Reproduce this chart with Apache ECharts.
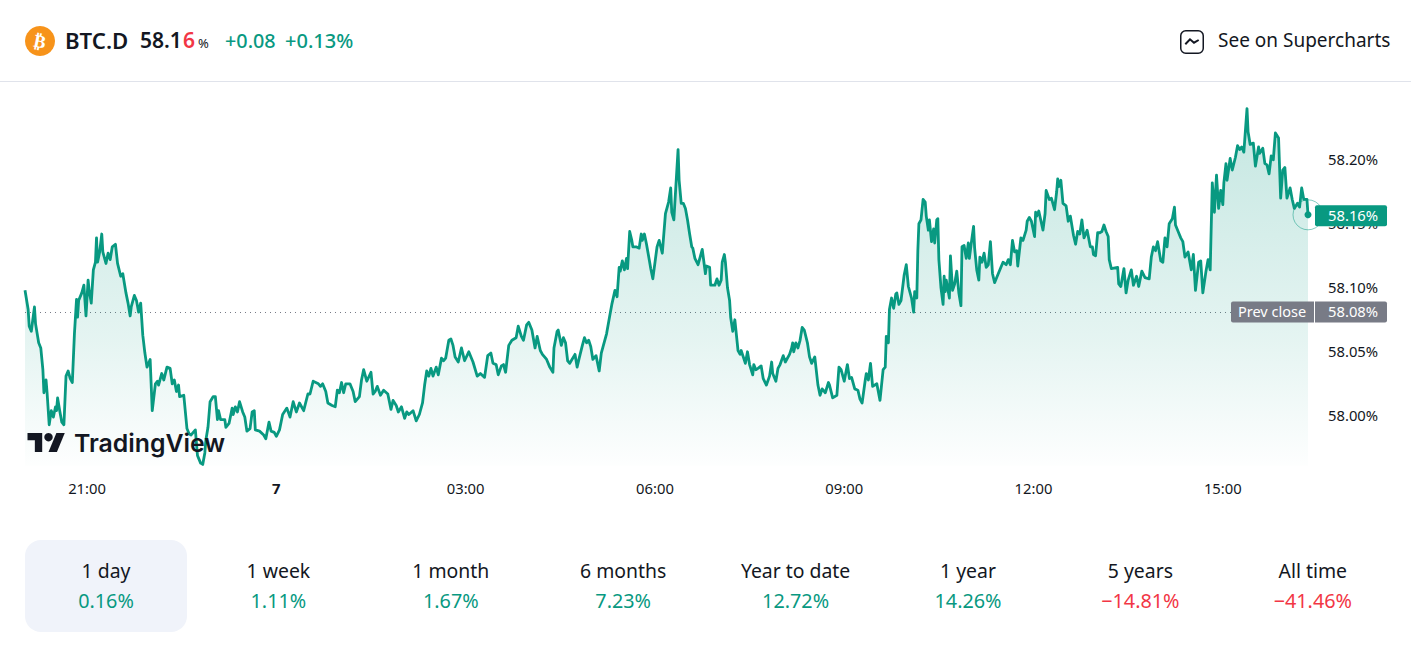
<!DOCTYPE html>
<html>
<head>
<meta charset="utf-8">
<script src="https://cdn.jsdelivr.net/npm/echarts@6/dist/echarts.min.js"></script>
<style>html,body{margin:0;padding:0;background:#fff}#c{width:1411px;height:665px}</style>
</head>
<body>
<div id="c"></div>
<script>
// minutes relative to 00:00 on the 7th, BTC dominance in %
const dominance = [
[-239,58.097],[-236,58.082],[-235,58.069],[-233,58.065],[-230,58.084],[-229,58.071],[-226,58.056],[-224,58.052],[-222,58.035],[-221,58.017],
[-219,58.027],[-218,58.017],[-216,57.992],[-214,58.003],[-212,57.998],[-210,58.006],[-209,58.003],[-208,58.013],[-206,58.003],[-204,57.994],
[-202,57.992],[-200,58.030],[-198,58.034],[-196,58.028],[-194,58.025],[-192,58.063],[-190,58.090],[-189,58.076],[-188,58.089],[-185,58.095],
[-183,58.101],[-181,58.077],[-179,58.105],[-178,58.097],[-176,58.087],[-174,58.113],[-172,58.119],[-171,58.138],[-170,58.119],[-168,58.127],
[-166,58.141],[-165,58.127],[-162,58.118],[-160,58.126],[-158,58.121],[-156,58.131],[-153,58.133],[-151,58.118],[-148,58.108],[-146,58.110],
[-143,58.095],[-141,58.087],[-139,58.077],[-138,58.084],[-135,58.093],[-133,58.089],[-131,58.080],[-129,58.087],[-127,58.062],[-125,58.048],
[-123,58.037],[-120,58.043],[-118,58.003],[-115,58.024],[-113,58.026],[-112,58.023],[-109,58.032],[-107,58.027],[-104,58.037],[-101,58.036],
[-99,58.024],[-97,58.027],[-95,58.018],[-93,58.023],[-92,58.014],[-88,58.015],[-85,57.989],[-83,57.985],[-81,57.984],[-77,57.988],
[-75,57.968],[-72,57.962],[-70,57.961],[-68,57.970],[-67,57.980],[-65,57.990],[-63,58.010],[-60,58.014],[-58,58.014],[-56,57.996],
[-55,58.003],[-53,57.996],[-49,57.996],[-48,57.990],[-45,57.993],[-42,58.005],[-41,58.000],[-39,58.006],[-37,58.002],[-35,58.010],
[-32,58.002],[-30,57.998],[-28,57.987],[-25,57.989],[-23,58.002],[-21,58.003],[-20,57.988],[-16,57.987],[-12,57.984],[-10,57.981],
[-7,57.994],[-5,57.987],[-2,57.986],[0,57.983],[3,57.988],[6,58.000],[10,58.005],[13,57.998],[16,58.010],[19,58.002],
[22,58.009],[26,58.003],[30,58.016],[32,58.016],[35,58.026],[40,58.024],[42,58.022],[44,58.024],[47,58.018],[49,58.009],
[53,58.007],[56,58.006],[58,58.019],[60,58.017],[62,58.025],[64,58.017],[66,58.024],[70,58.024],[73,58.018],[75,58.010],
[79,58.014],[81,58.027],[83,58.035],[86,58.026],[90,58.033],[92,58.016],[94,58.018],[96,58.022],[99,58.015],[102,58.019],
[106,58.016],[109,58.004],[111,58.011],[114,58.007],[116,58.002],[119,58.006],[122,57.997],[124,58.002],[126,58.000],[130,58.003],
[133,57.995],[136,58.000],[139,58.009],[141,58.023],[143,58.034],[145,58.030],[147,58.036],[149,58.030],[152,58.037],[154,58.031],
[157,58.044],[159,58.042],[161,58.044],[164,58.058],[166,58.059],[168,58.054],[170,58.045],[173,58.041],[176,58.052],[179,58.042],
[183,58.049],[187,58.041],[191,58.030],[194,58.032],[198,58.029],[201,58.046],[204,58.048],[206,58.040],[209,58.039],[211,58.031],
[214,58.038],[216,58.039],[218,58.033],[221,58.054],[224,58.058],[228,58.060],[230,58.069],[233,58.061],[235,58.058],[238,58.070],
[240,58.072],[243,58.066],[246,58.052],[248,58.061],[251,58.050],[253,58.047],[257,58.043],[260,58.037],[263,58.033],[264,58.052],
[267,58.065],[268,58.066],[271,58.054],[273,58.060],[275,58.056],[277,58.042],[279,58.040],[284,58.047],[286,58.037],[288,58.044],
[291,58.054],[293,58.060],[295,58.056],[297,58.058],[299,58.053],[301,58.043],[304,58.046],[307,58.034],[309,58.048],[311,58.054],
[314,58.063],[317,58.077],[319,58.086],[322,58.097],[324,58.092],[326,58.115],[327,58.112],[329,58.120],[331,58.113],[333,58.122],
[334,58.114],[336,58.143],[338,58.136],[339,58.131],[342,58.131],[345,58.130],[347,58.141],[348,58.136],[350,58.141],[352,58.133],
[355,58.119],[356,58.114],[358,58.106],[362,58.131],[364,58.136],[367,58.126],[370,58.157],[373,58.166],[375,58.177],[376,58.158],
[378,58.152],[382,58.207],[383,58.183],[385,58.165],[387,58.165],[389,58.161],[391,58.152],[393,58.141],[395,58.131],[396,58.130],
[398,58.122],[401,58.117],[403,58.123],[405,58.129],[408,58.110],[409,58.116],[412,58.115],[413,58.101],[417,58.101],[419,58.106],
[421,58.101],[423,58.105],[424,58.119],[426,58.125],[427,58.119],[429,58.099],[431,58.089],[432,58.076],[434,58.065],[436,58.074],
[439,58.050],[441,58.047],[442,58.050],[444,58.045],[446,58.040],[448,58.049],[450,58.039],[453,58.031],[454,58.039],[456,58.035],
[458,58.036],[461,58.038],[463,58.028],[466,58.023],[469,58.030],[471,58.041],[472,58.032],[475,58.026],[477,58.036],[479,58.039],
[482,58.046],[484,58.041],[488,58.047],[490,58.052],[491,58.056],[492,58.049],[494,58.056],[496,58.052],[498,58.058],[500,58.068],
[502,58.066],[505,58.056],[507,58.045],[509,58.040],[512,58.045],[515,58.023],[517,58.015],[519,58.020],[522,58.017],[525,58.025],
[526,58.023],[529,58.013],[533,58.015],[535,58.037],[537,58.035],[540,58.026],[543,58.039],[545,58.028],[547,58.029],[550,58.020],
[553,58.019],[555,58.012],[557,58.009],[560,58.027],[561,58.032],[563,58.027],[565,58.040],[567,58.022],[571,58.024],[574,58.011],
[577,58.035],[579,58.037],[580,58.061],[582,58.056],[583,58.082],[585,58.091],[587,58.083],[589,58.094],[590,58.095],[592,58.086],
[594,58.089],[597,58.109],[599,58.117],[601,58.100],[604,58.091],[606,58.080],[607,58.096],[609,58.091],[610,58.128],[611,58.149],
[613,58.152],[615,58.168],[617,58.166],[618,58.155],[620,58.144],[621,58.152],[623,58.135],[625,58.145],[626,58.134],[628,58.152],
[629,58.153],[630,58.121],[632,58.099],[634,58.086],[635,58.108],[636,58.096],[637,58.105],[640,58.091],[641,58.124],[643,58.097],
[645,58.102],[647,58.112],[649,58.095],[651,58.085],[652,58.131],[654,58.132],[656,58.122],[658,58.134],[659,58.122],[661,58.135],
[663,58.147],[664,58.130],[666,58.113],[668,58.105],[669,58.123],[671,58.119],[673,58.126],[675,58.115],[677,58.117],[679,58.135],
[681,58.110],[683,58.103],[685,58.107],[689,58.115],[691,58.119],[694,58.117],[696,58.121],[698,58.117],[700,58.136],[702,58.127],
[704,58.128],[705,58.116],[708,58.138],[710,58.136],[713,58.144],[714,58.151],[716,58.154],[718,58.151],[721,58.139],[722,58.158],
[723,58.155],[725,58.159],[729,58.144],[731,58.157],[732,58.175],[735,58.168],[737,58.169],[740,58.160],[742,58.174],[743,58.184],
[744,58.178],[746,58.183],[748,58.165],[751,58.163],[753,58.151],[755,58.155],[758,58.140],[760,58.133],[762,58.143],[764,58.141],
[766,58.152],[768,58.138],[771,58.144],[774,58.131],[776,58.131],[777,58.125],[779,58.124],[781,58.142],[783,58.142],[785,58.143],
[787,58.148],[789,58.143],[791,58.139],[792,58.121],[794,58.114],[800,58.115],[801,58.102],[803,58.100],[806,58.114],[808,58.095],
[810,58.105],[813,58.113],[815,58.101],[818,58.108],[820,58.100],[823,58.112],[826,58.107],[830,58.106],[832,58.123],[834,58.131],
[836,58.128],[838,58.135],[841,58.120],[843,58.119],[845,58.138],[847,58.131],[849,58.149],[852,58.153],[854,58.162],[855,58.148],
[858,58.142],[860,58.138],[862,58.135],[864,58.123],[867,58.127],[870,58.113],[872,58.125],[874,58.097],[877,58.119],[879,58.120],
[881,58.095],[884,58.112],[886,58.121],[888,58.113],[890,58.181],[892,58.158],[894,58.187],[896,58.161],[898,58.175],[900,58.164],
[901,58.181],[903,58.196],[904,58.183],[907,58.200],[909,58.191],[912,58.201],[914,58.210],[916,58.207],[918,58.209],[920,58.205],
[923,58.239],[924,58.221],[926,58.211],[929,58.212],[931,58.194],[934,58.209],[935,58.204],[938,58.208],[940,58.196],[942,58.195],
[944,58.188],[946,58.202],[948,58.199],[950,58.220],[953,58.216],[955,58.169],[957,58.191],[959,58.193],[961,58.169],[964,58.177],
[966,58.168],[968,58.161],[971,58.165],[973,58.162],[975,58.177],[977,58.168],[980,58.168],[981,58.156]
];
const timeTicks = [-180,0,180,360,540,720,900];
const timeLabels = ['21:00','7','03:00','06:00','09:00','12:00','15:00'];
const priceTicks = [58.00,58.05,58.10,58.15,58.20];
const prevClose = 58.08;
const lastPrice = 58.156;
const periods = ['1 day','1 week','1 month','6 months','Year to date','1 year','5 years','All time'];
const periodChanges = ['0.16%','1.11%','1.67%','7.23%','12.72%','14.26%','\u221214.81%','\u221241.46%'];

const GREEN='#089981', RED='#f23645', INK='#131722', GREY='#787b86';
const FONT='"Noto Sans", sans-serif';

const chart = echarts.init(document.getElementById('c'), null, {renderer:'svg'});
const T=(x,y,text,size,fill,weight,align,family)=>({type:'text',z:20,x,y,silent:true,style:{text,x:0,y:0,fill,font:`${weight||400} ${size}px ${family||FONT}`,textAlign:align||'left',textVerticalAlign:'middle'}});

chart.setOption({
  animation:false,
  backgroundColor:'#fff',
  grid:{left:25,top:94.5,width:1283,height:371.2},
  xAxis:{type:'value',min:-239,max:981,splitLine:{show:false},axisLine:{show:false},axisTick:{show:false},
    axisLabel:{customValues:timeTicks,margin:15,fontFamily:FONT,fontSize:14.8,color:INK,
      formatter:v=>{const l=timeLabels[timeTicks.indexOf(v)];return l==='7'?`{b|${l}}`:l;},
      rich:{b:{fontWeight:700,fontFamily:FONT,fontSize:14.8,color:INK}}}},
  yAxis:{type:'value',position:'right',min:57.96,max:58.25,splitLine:{show:false},axisLine:{show:false},axisTick:{show:false},
    axisLabel:{customValues:priceTicks,margin:20,fontFamily:FONT,fontSize:14.8,color:INK,padding:[0,0,4,0],formatter:v=>v.toFixed(2)+'%'}},
  series:[{type:'line',data:dominance,showSymbol:false,symbol:'none',smooth:false,z:5,
    lineStyle:{color:GREEN,width:2.8,join:'round'},
    areaStyle:{color:new echarts.graphic.LinearGradient(0,0,0,1,[
      {offset:0,color:'rgba(8,153,129,0.34)'},{offset:0.65,color:'rgba(8,153,129,0.15)'},{offset:1,color:'rgba(8,153,129,0.01)'}])},
    markLine:{silent:true,symbol:'none',animation:false,label:{show:false},
      lineStyle:{color:GREY,width:1,type:[1,4]},data:[{yAxis:prevClose}]}
  }]
});

const px=(t,v)=>chart.convertToPixel({gridIndex:0},[t,v]);
const [lx,ly]=px(981,lastPrice);
const [,py]=px(981,prevClose);
const g=[];
// header
g.push({type:'line',z:20,shape:{x1:0,y1:81.5,x2:1411,y2:81.5},style:{stroke:'#e0e3eb',lineWidth:1}});
g.push({type:'circle',z:20,shape:{cx:40,cy:41,r:15},style:{fill:'#f7931a'}});
g.push({type:'text',z:21,x:40,y:41,rotation:-0.2,style:{text:'\u20bf',x:0,y:0,fill:'#fff',font:`700 18px "DejaVu Sans"`,textAlign:'center',textVerticalAlign:'middle'}});
g.push(T(65,40,'BTC.D',22.2,INK,600));
g.push(T(140,40,'58.1',21,INK,600));
g.push(T(183,40,'6',21,RED,600));
g.push(T(198,43,'%',13,INK,400));
g.push(T(225,40,'+0.08',19.8,GREEN,500));
g.push(T(285,40,'+0.13%',20,GREEN,500));
g.push({type:'rect',z:20,shape:{x:1180.75,y:30.75,width:22.5,height:22.5,r:5},style:{fill:'none',stroke:INK,lineWidth:1.5}});
g.push({type:'polyline',z:20,shape:{points:[[1185.3,44.3],[1190,39.3],[1194,42.7],[1198.7,40]]},style:{fill:'none',stroke:INK,lineWidth:2}});
g.push(T(1218,40,'See on Supercharts',19,INK,400));
// logo
const LX=27.5, LY=428.8, LS=1.05;
const logoPts=a=>a.map(([x,y])=>[LX+x*LS,LY+y*LS]);
g.push({type:'polygon',z:20,shape:{points:logoPts([[14,22],[7,22],[7,11],[0,11],[0,4],[14,4]])},style:{fill:INK}});
g.push({type:'polygon',z:20,shape:{points:logoPts([[28,22],[20,22],[27.5,4],[35.5,4]])},style:{fill:INK}});
g.push({type:'circle',z:20,shape:{cx:LX+20*LS,cy:LY+8*LS,r:4*LS},style:{fill:INK}});
g.push(T(74,443,'TradingView',24.8,INK,600,'left','Inter'));
// price tags
g.push({type:'circle',z:15,shape:{cx:lx,cy:ly,r:15},style:{fill:'none',stroke:'rgba(8,153,129,0.5)',lineWidth:1}});
g.push({type:'circle',z:16,shape:{cx:lx,cy:ly,r:3.5},style:{fill:GREEN}});
g.push({type:'rect',z:18,shape:{x:1315,y:ly-9.5,width:72,height:21,r:2},style:{fill:GREEN}});
g.push(T(1328,ly,'58.16%',14.8,'#fff',400));
g.push({type:'rect',z:18,shape:{x:1231,y:py-10.5,width:83,height:21,r:[2,0,0,2]},style:{fill:GREY}});
g.push(T(1238,py-1,'Prev close',14.5,'#fff',400));
g.push({type:'rect',z:18,shape:{x:1315,y:py-10.5,width:72,height:21,r:[0,2,2,0]},style:{fill:GREY}});
g.push(T(1328,py-1,prevClose.toFixed(2)+'%',14.8,'#fff',400));
// footer
g.push({type:'rect',z:1,shape:{x:25,y:540,width:162,height:92,r:16},style:{fill:'#f0f3fa'}});
periods.forEach((p,i)=>{
  const cx=106+i*172.4;
  g.push(T(cx,570,p,19.4,INK,400,'center'));
  g.push(T(cx,600,periodChanges[i],19.8,periodChanges[i][0]==='\u2212'?RED:GREEN,400,'center'));
});
chart.setOption({graphic:{elements:g}});
</script>
</body>
</html>
